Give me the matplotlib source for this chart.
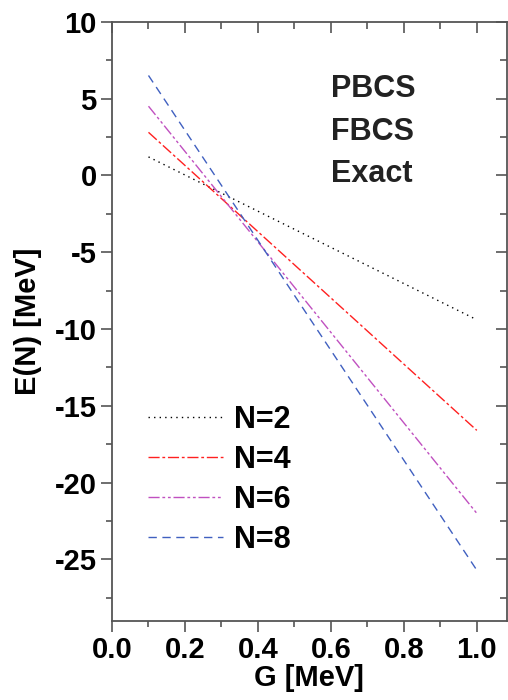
import matplotlib
matplotlib.use("Agg")
import matplotlib.pyplot as plt
from matplotlib.ticker import MultipleLocator

plt.rcParams['font.family'] = ['Liberation Sans', 'DejaVu Sans']
plt.rcParams['font.weight'] = 'bold'
plt.rcParams['axes.unicode_minus'] = False

# values
G = [0.1, 1.0]
E_N2 = [1.2, -9.4]
E_N4 = [2.8, -16.6]
E_N6 = [4.5, -22.0]
E_N8 = [6.5, -25.7]
labels = ['N=2', 'N=4', 'N=6', 'N=8']
methods = ['PBCS', 'FBCS', 'Exact']

fig = plt.figure(figsize=(5.08, 7.0), dpi=100)
ax = fig.add_axes([0.2205, 0.113, 0.777, 0.856])

ax.plot(G, E_N2, color='black', linestyle=(0, (1, 3)), linewidth=1.0, label=labels[0])
ax.plot(G, E_N4, color='#ff2020', linestyle=(0, (8, 2, 2, 2)), linewidth=1.0, label=labels[1])
ax.plot(G, E_N6, color='#c050c0', linestyle=(0, (8, 2, 2, 2, 2, 2)), linewidth=1.0, label=labels[2])
ax.plot(G, E_N8, color='#4060c0', linestyle=(0, (6, 4)), linewidth=1.0, label=labels[3])

ax.set_xlim(0, 1.082)
ax.set_ylim(-29, 10)
ax.set_xticks([0.0, 0.2, 0.4, 0.6, 0.8, 1.0])
ax.set_xticklabels(['0.0', '0.2', '0.4', '0.6', '0.8', '1.0'])
ax.xaxis.set_minor_locator(MultipleLocator(0.1))
ax.yaxis.set_major_locator(MultipleLocator(5))
ax.yaxis.set_minor_locator(MultipleLocator(2.5))

for s in ax.spines.values():
    s.set_color('#555555')
    s.set_linewidth(1.3)
ax.tick_params(which='both', color='#555555', width=1.2, labelsize=21, direction='out')
ax.tick_params(which='major', length=8)
ax.tick_params(which='minor', length=4)
ax.tick_params(axis='x', pad=3)
ax.tick_params(axis='y', pad=3)

# top and right ticks point inward
top = ax.secondary_xaxis('top')
top.set_xticks([0.0, 0.2, 0.4, 0.6, 0.8, 1.0])
top.xaxis.set_minor_locator(MultipleLocator(0.1))
top.tick_params(which='both', direction='in', color='#555555', width=1.2, labeltop=False)
top.tick_params(which='major', length=8)
top.tick_params(which='minor', length=5)
top.spines['top'].set_visible(False)
right = ax.secondary_yaxis('right')
right.yaxis.set_major_locator(MultipleLocator(5))
right.yaxis.set_minor_locator(MultipleLocator(2.5))
right.tick_params(which='both', direction='in', color='#555555', width=1.2, labelright=False)
right.tick_params(which='major', length=8)
right.tick_params(which='minor', length=5)
right.spines['right'].set_visible(False)

ax.set_xlabel('G [MeV]', fontsize=21, fontweight='bold', labelpad=0)
ax.set_ylabel('E(N) [MeV]', fontsize=21, fontweight='bold', labelpad=9)

for i, m in enumerate(methods):
    ax.text(0.60, 5.6 - i * 2.75, m, fontsize=22, fontweight='bold', color='#222222',
            va='center', ha='left')

ax.legend(loc='lower left', bbox_to_anchor=(0.091, 0.11), frameon=False,
          handlelength=2.45, handletextpad=0.36, labelspacing=0.33, borderaxespad=0.0,
          borderpad=0.0, prop={'weight': 'bold', 'size': 22})

fig.savefig('out.png', dpi=100)
